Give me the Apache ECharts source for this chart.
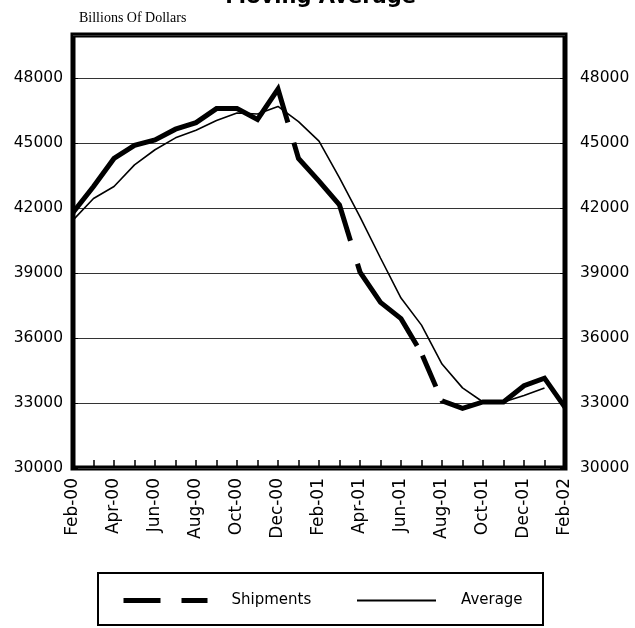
<!DOCTYPE html>
<html>
<head>
<meta charset="utf-8">
<script src="https://cdn.jsdelivr.net/npm/echarts@6/dist/echarts.min.js"></script>
<style>
html, body { margin: 0; padding: 0; background: #fff; }
#chart { width: 635px; height: 628px; }
</style>
</head>
<body>
<div id="chart"></div>
<script>
// months, Feb-00 .. Feb-02
var months = ['Feb-00','Mar-00','Apr-00','May-00','Jun-00','Jul-00','Aug-00','Sep-00','Oct-00','Nov-00','Dec-00','Jan-01',
	'Feb-01','Mar-01','Apr-01','May-01','Jun-01','Jul-01','Aug-01','Sep-01','Oct-01','Nov-01','Dec-01','Jan-02','Feb-02'];
// shipments (billions of dollars)
var shipments = [41800,43000,44300,44900,45150,45650,45950,46600,46600,46100,47500,44300,
	43250,42150,39050,37650,36900,35300,33100,32750,33050,33050,33800,34150,32800];
// moving average, no value for the last month
var average = [41450,42450,43000,44000,44700,45250,45600,46050,46400,46350,46700,46000,
	45100,43400,41600,39700,37850,36600,34800,33700,33050,33050,33350,33700,null];
var yMin = 30000, yMax = 50000, yStep = 3000;

var font = 'DejaVu Sans';
var chart = echarts.init(document.getElementById('chart'));

function plain(v) {
	return String(v);
}

var option = {
	animation: false,
	backgroundColor: '#fff',
	title: [{
		text: 'Moving Average',
		right: 214,
		top: -18,
		textStyle: { fontFamily: font, fontSize: 21, fontWeight: 'bold', color: '#000' }
	}, {
		text: 'Billions Of Dollars',
		left: 74,
		top: 6,
		textStyle: { fontFamily: 'Liberation Serif', fontSize: 14, fontWeight: 'normal', color: '#000' }
	}],
	legend: [{
		data: [{ name: 'Shipments', lineStyle: { type: [37, 21, 30], width: 5 }, itemStyle: { opacity: 0 } }],
		left: 121,
		top: 593,
		padding: 0,
		itemWidth: 84,
		itemHeight: 14,
		textStyle: { fontFamily: font, fontSize: 15, color: '#000', padding: [0, 0, 0, 19] }
	}, {
		data: [{ name: 'Average', itemStyle: { opacity: 0 } }],
		left: 356,
		top: 593,
		padding: 0,
		itemWidth: 79,
		itemHeight: 14,
		textStyle: { fontFamily: font, fontSize: 15, color: '#000', padding: [0, 0, 0, 20] }
	}],
	grid: {
		left: 73,
		right: 70,
		top: 35,
		bottom: 160,
		show: true,
		borderColor: '#000',
		borderWidth: 5,
		outerBoundsMode: 'none'
	},
	xAxis: {
		type: 'category',
		boundaryGap: false,
		data: months,
		axisLine: { show: false },
		axisTick: { show: true, inside: true, length: 8, interval: 0, lineStyle: { color: '#000', width: 1.5 } },
		axisLabel: { interval: 1, rotate: 90, margin: 10, fontFamily: font, fontSize: 17, color: '#000' },
		splitLine: { show: false }
	},
	yAxis: [{
		type: 'value',
		min: yMin,
		max: yMax,
		interval: yStep,
		axisLine: { show: false },
		axisTick: { show: true, inside: true, length: 5, lineStyle: { color: '#000' } },
		axisLabel: { showMaxLabel: false, margin: 10, formatter: plain, fontFamily: font, fontSize: 15.5, color: '#000' },
		splitLine: { show: true, lineStyle: { color: '#333', width: 1 } }
	}, {
		type: 'value',
		position: 'right',
		min: yMin,
		max: yMax,
		interval: yStep,
		axisLine: { show: false },
		axisTick: { show: true, inside: true, length: 5, lineStyle: { color: '#000' } },
		axisLabel: { showMaxLabel: false, margin: 15, formatter: plain, fontFamily: font, fontSize: 15.5, color: '#000' },
		splitLine: { show: false }
	}],
	series: [{
		name: 'Shipments',
		type: 'line',
		data: shipments,
		symbol: 'none',
		z: 3,
		// long dash, broken at the same places as the printed chart
		lineStyle: { color: '#000', width: 5, type: [298, 21, 116, 24, 103, 11, 34, 15, 2000], cap: 'butt', join: 'miter' },
		itemStyle: { color: '#000' }
	}, {
		name: 'Average',
		type: 'line',
		data: average,
		symbol: 'none',
		z: 2,
		lineStyle: { color: '#000', width: 1.6, type: 'solid' },
		itemStyle: { color: '#000' }
	}],
	graphic: [{
		type: 'rect',
		shape: { x: 98, y: 573, width: 445, height: 52 },
		style: { fill: 'none', stroke: '#000', lineWidth: 2 }
	}]
};
chart.setOption(option);
</script>
</body>
</html>
